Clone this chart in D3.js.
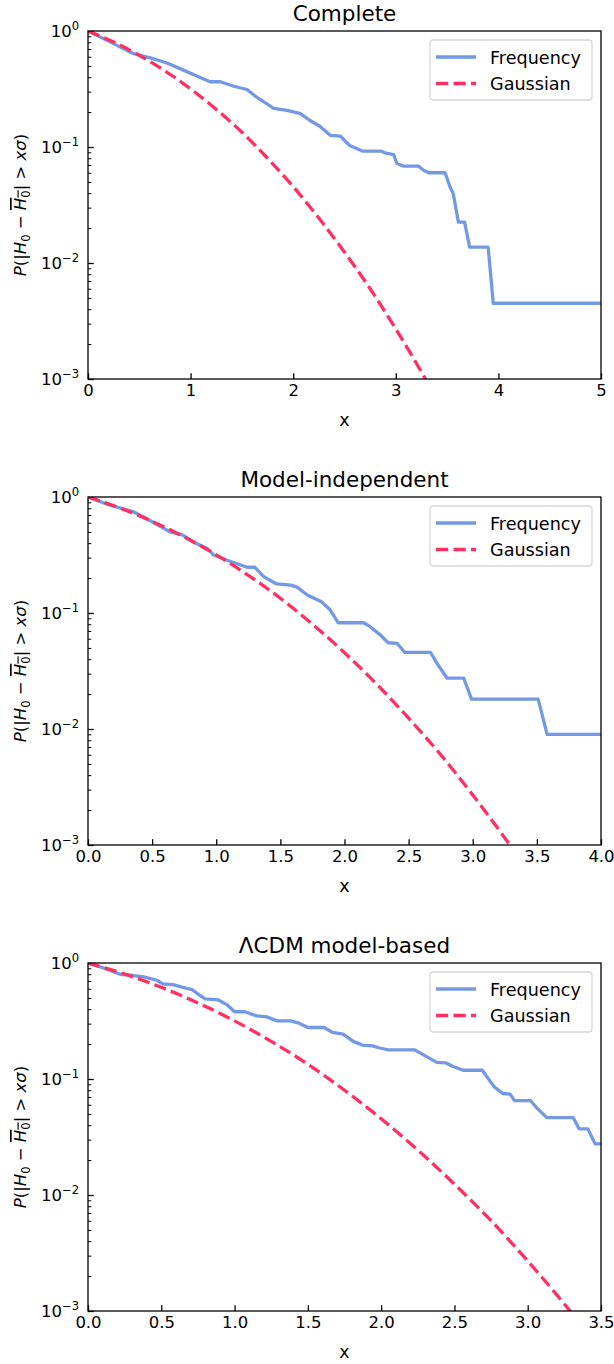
<!DOCTYPE html>
<html>
<head>
<meta charset="utf-8">
<script src="https://cdn.jsdelivr.net/npm/d3@7"></script>
<style>
body { margin: 0; background: #fff; }
text { font-family: "DejaVu Sans", sans-serif; fill: #000; }
</style>
</head>
<body>
<div id="chart"></div>
<script>
// values
var completeX = [0, 0.21, 0.44, 0.60, 0.77, 0.93, 1.06, 1.19, 1.29, 1.42, 1.55, 1.64, 1.74, 1.81, 1.94, 2.07, 2.16, 2.26, 2.36, 2.46, 2.55, 2.68, 2.86, 2.91, 2.98, 3.01, 3.07, 3.22, 3.27, 3.32, 3.48, 3.53, 3.56, 3.61, 3.67, 3.72, 3.90, 3.95, 5.0];
var completeP = [1.0, 0.81, 0.64, 0.59, 0.53, 0.46, 0.41, 0.365, 0.365, 0.334, 0.313, 0.27, 0.237, 0.215, 0.207, 0.194, 0.170, 0.151, 0.126, 0.124, 0.103, 0.092, 0.092, 0.088, 0.086, 0.072, 0.0685, 0.0685, 0.063, 0.060, 0.060, 0.045, 0.0395, 0.0225, 0.0225, 0.0137, 0.0137, 0.0045, 0.0045];

var modelIndX = [0, 0.17, 0.35, 0.48, 0.64, 0.74, 0.82, 0.93, 0.98, 1.08, 1.19, 1.24, 1.30, 1.37, 1.47, 1.58, 1.63, 1.71, 1.82, 1.89, 1.95, 2.15, 2.20, 2.28, 2.34, 2.41, 2.47, 2.67, 2.73, 2.80, 2.93, 2.99, 3.51, 3.58, 4.0];
var modelIndP = [1.0, 0.85, 0.75, 0.63, 0.50, 0.47, 0.41, 0.36, 0.316, 0.286, 0.259, 0.248, 0.248, 0.206, 0.178, 0.174, 0.167, 0.143, 0.125, 0.106, 0.0824, 0.0824, 0.0762, 0.0646, 0.0554, 0.0548, 0.0457, 0.0457, 0.0356, 0.0274, 0.0274, 0.0181, 0.0181, 0.009, 0.009];

var lcdmX = [0, 0.10, 0.22, 0.31, 0.38, 0.47, 0.51, 0.58, 0.64, 0.71, 0.75, 0.80, 0.89, 0.95, 1.00, 1.07, 1.15, 1.22, 1.29, 1.38, 1.44, 1.50, 1.61, 1.67, 1.74, 1.81, 1.87, 1.94, 1.99, 2.05, 2.23, 2.31, 2.38, 2.44, 2.49, 2.56, 2.69, 2.77, 2.83, 2.88, 2.91, 3.02, 3.06, 3.13, 3.31, 3.35, 3.41, 3.46, 3.5];
var lcdmP = [1.0, 0.91, 0.80, 0.78, 0.76, 0.71, 0.66, 0.65, 0.62, 0.59, 0.54, 0.49, 0.48, 0.435, 0.38, 0.38, 0.35, 0.343, 0.317, 0.317, 0.303, 0.278, 0.278, 0.252, 0.244, 0.211, 0.196, 0.193, 0.185, 0.178, 0.178, 0.156, 0.139, 0.138, 0.128, 0.119, 0.119, 0.086, 0.075, 0.074, 0.065, 0.065, 0.0566, 0.0465, 0.0465, 0.0372, 0.0372, 0.0276, 0.0276];

var gaussX = [0, 0.25, 0.5, 0.75, 1.0, 1.25, 1.5, 1.75, 2.0, 2.25, 2.5, 2.75, 3.0, 3.25, 3.5];
var gaussP = [1.0, 0.803, 0.617, 0.453, 0.317, 0.211, 0.134, 0.080, 0.0455, 0.0244, 0.0124, 0.0060, 0.0027, 0.00115, 0.000465];

var titles = ["Complete", "Model-independent", "\u039BCDM model-based"];
var xMaxes = [5, 4, 3.5];
var xTicksComplete = [0, 1, 2, 3, 4, 5];
var xTicksModelInd = [0, 0.5, 1, 1.5, 2, 2.5, 3, 3.5, 4];
var xTicksLcdm = [0, 0.5, 1, 1.5, 2, 2.5, 3, 3.5];
var yTicks = [1e-3, 1e-2, 1e-1, 1];
var yTickExp = ["\u22123", "\u22122", "\u22121", "0"];
var legendLabels = ["Frequency", "Gaussian"];

var width = 614, height = 1364;
var margin = {left: 88, top: 31};
var plotW = 513, plotH = 348, panelStep = 466;
var fs = 16.5;
var blue = "#7398e4", pink = "#ff2f61";

var svg = d3.select("#chart").append("svg")
    .attr("width", width)
    .attr("height", height);

function drawPanel(i, title, xMax, xTicks, xFmt, freqX, freqP) {
    var top = margin.top + i * panelStep;
    var g = svg.append("g").attr("transform", "translate(" + margin.left + "," + top + ")");

    var x = d3.scaleLinear().domain([0, xMax]).range([0, plotW]);
    var y = d3.scaleLog().domain([1e-3, 1]).range([plotH, 0]);

    g.append("clipPath").attr("id", "clip" + i)
        .append("rect").attr("width", plotW).attr("height", plotH);

    // x axis
    var xa = g.append("g").attr("transform", "translate(0," + plotH + ")")
        .call(d3.axisBottom(x).tickValues(xTicks).tickFormat(xFmt).tickSizeInner(-5.8).tickSizeOuter(0).tickPadding(5.5));
    xa.select(".domain").remove();
    xa.selectAll("line").attr("stroke-width", 1.3);
    xa.selectAll("text").attr("font-size", fs).attr("font-family", "DejaVu Sans");

    // y axis major + minor
    var minor = [];
    [1e-3, 1e-2, 1e-1].forEach(function (d) {
        for (var k = 2; k < 10; k++) minor.push(d * k);
    });
    var ya = g.append("g")
        .call(d3.axisLeft(y).tickValues(yTicks).tickFormat("").tickSizeInner(-5.8).tickSizeOuter(0));
    ya.select(".domain").remove();
    ya.selectAll("line").attr("stroke-width", 1.3);
    var ym = g.append("g")
        .call(d3.axisLeft(y).tickValues(minor).tickFormat("").tickSizeInner(-3.3).tickSizeOuter(0));
    ym.select(".domain").remove();
    ym.selectAll("line").attr("stroke-width", 1);

    yTicks.forEach(function (v, j) {
        var t = g.append("text")
            .attr("x", -9)
            .attr("y", y(v) + 6)
            .attr("text-anchor", "end")
            .attr("font-size", fs);
        t.append("tspan").text("10");
        t.append("tspan").attr("font-size", fs * 0.7).attr("dy", -7.5).text(yTickExp[j]);
    });

    // curves
    var freqLine = d3.line()
        .x(function (d) { return x(d[0]); })
        .y(function (d) { return y(d[1]); });
    var gaussLine = d3.line()
        .curve(d3.curveMonotoneX)
        .x(function (d) { return x(d[0]); })
        .y(function (d) { return y(d[1]); });

    g.append("path")
        .datum(d3.zip(freqX, freqP))
        .attr("clip-path", "url(#clip" + i + ")")
        .attr("d", freqLine)
        .attr("fill", "none")
        .attr("stroke", blue)
        .attr("stroke-width", 3.3)
        .attr("stroke-linejoin", "round");

    g.append("path")
        .datum(d3.zip(gaussX, gaussP).filter(function (d) { return d[0] <= xMax; }))
        .attr("clip-path", "url(#clip" + i + ")")
        .attr("d", gaussLine)
        .attr("fill", "none")
        .attr("stroke", pink)
        .attr("stroke-width", 3.3)
        .attr("stroke-dasharray", "12.2,5.3");

    // frame
    g.append("rect")
        .attr("width", plotW)
        .attr("height", plotH)
        .attr("fill", "none")
        .attr("stroke", "#000")
        .attr("stroke-width", 1.3);

    // title and axis labels
    g.append("text")
        .text(title)
        .attr("x", plotW / 2)
        .attr("y", -10)
        .attr("text-anchor", "middle")
        .attr("font-size", 21.5);

    g.append("text")
        .text("x")
        .attr("x", plotW / 2)
        .attr("y", plotH + 47)
        .attr("text-anchor", "middle")
        .attr("font-size", 17.5);

    var yl = g.append("text")
        .attr("transform", "translate(" + (-62) + "," + (plotH / 2) + ") rotate(-90)")
        .attr("text-anchor", "middle")
        .attr("font-size", fs);
    yl.append("tspan").attr("font-style", "italic").text("P");
    yl.append("tspan").text("(|");
    yl.append("tspan").attr("font-style", "italic").text("H");
    yl.append("tspan").attr("font-size", fs * 0.7).attr("dy", 3.5).text("0");
    yl.append("tspan").attr("dy", -3.5).text(" \u2212 ");
    var ov = yl.append("tspan").style("text-decoration", "overline");
    ov.append("tspan").attr("font-style", "italic").text("H");
    ov.append("tspan").attr("font-size", fs * 0.7).attr("dy", 3.5).text("0");
    yl.append("tspan").attr("dy", -3.5).text("| > ");
    yl.append("tspan").attr("font-style", "italic").text("x\u03C3");
    yl.append("tspan").text(")");

    // legend
    var lg = g.append("g").attr("transform", "translate(342,9)");
    lg.append("rect")
        .attr("width", 162)
        .attr("height", 60)
        .attr("rx", 3)
        .attr("fill", "#fff")
        .attr("fill-opacity", 0.8)
        .attr("stroke", "#d6d6d6")
        .attr("stroke-width", 1.3);
    legendLabels.forEach(function (name, j) {
        var ly = 17 + j * 26.5;
        lg.append("line")
            .attr("x1", 6).attr("x2", 46)
            .attr("y1", ly).attr("y2", ly)
            .attr("stroke", j === 0 ? blue : pink)
            .attr("stroke-width", 3.3)
            .attr("stroke-dasharray", j === 0 ? null : "12.2,5.3");
        lg.append("text")
            .text(name)
            .attr("x", 60)
            .attr("y", ly + 6.5)
            .attr("font-size", 17.6);
    });
}

drawPanel(0, titles[0], xMaxes[0], xTicksComplete, d3.format("d"), completeX, completeP);
drawPanel(1, titles[1], xMaxes[1], xTicksModelInd, d3.format(".1f"), modelIndX, modelIndP);
drawPanel(2, titles[2], xMaxes[2], xTicksLcdm, d3.format(".1f"), lcdmX, lcdmP);
</script>
</body>
</html>
